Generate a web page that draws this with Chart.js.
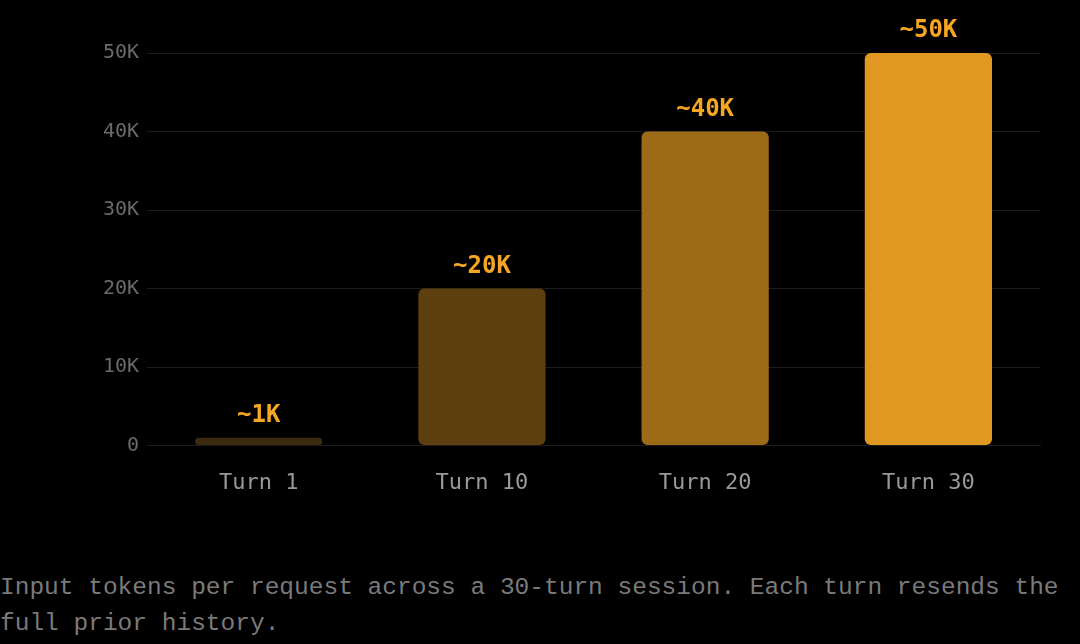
<!DOCTYPE html>
<html><head><meta charset="utf-8">
<script src="https://cdn.jsdelivr.net/npm/chart.js@4"></script>
<style>
body{margin:0;background:#000;width:1080px;height:644px;overflow:hidden;font-family:"Liberation Mono","DejaVu Sans Mono",monospace}
#wrap{position:relative;width:1080px;height:520px}
p{margin:0;position:absolute;left:0;top:570px;color:#7a7a7a;font-size:24.5px;line-height:36px;width:1080px}
</style></head><body>
<div id="wrap"><canvas id="c"></canvas></div>
<p>Input tokens per request across a 30-turn session. Each turn resends the full prior history.</p>
<script>
const labels=["Turn 1","Turn 10","Turn 20","Turn 30"];
const tokens=[1000,20000,40000,50000];
const valueText=["~1K","~20K","~40K","~50K"];
const colors=["#3a2a0e","#5d3f10","#9c6b17","#e09822"];

const topLabels={id:"topLabels",afterDatasetsDraw(chart){
  const ctx=chart.ctx;
  ctx.save();
  ctx.font="bold 24px 'DejaVu Sans Mono'";
  ctx.fillStyle="#f5a623";
  ctx.textAlign="center";
  chart.getDatasetMeta(0).data.forEach((b,i)=>{ctx.fillText(valueText[i],b.x,b.y-16)});
  ctx.restore();
}};

new Chart(document.getElementById("c"),{
 type:"bar",
 data:{labels:labels,datasets:[{data:tokens,backgroundColor:colors,borderRadius:6,borderSkipped:false,barPercentage:0.57,categoryPercentage:1}]},
 options:{responsive:true,maintainAspectRatio:false,animation:false,
  layout:{padding:{top:53,right:40,left:95}},
  plugins:{legend:{display:false},tooltip:{enabled:false}},
  scales:{
   y:{min:0,max:50000,ticks:{stepSize:10000,color:"#6a6a6a",font:{family:"DejaVu Sans Mono",size:20},padding:8,
      callback:v=>v===0?"0":(v/1000)+"K"},
      grid:{color:"#1c1c1c",drawTicks:false},border:{display:false}},
   x:{ticks:{color:"#999",font:{family:"DejaVu Sans Mono",size:22},padding:24},
      grid:{display:false,drawTicks:false},border:{color:"#1c1c1c"}}
  }
 },
 plugins:[topLabels]
});
</script>
</body></html>
